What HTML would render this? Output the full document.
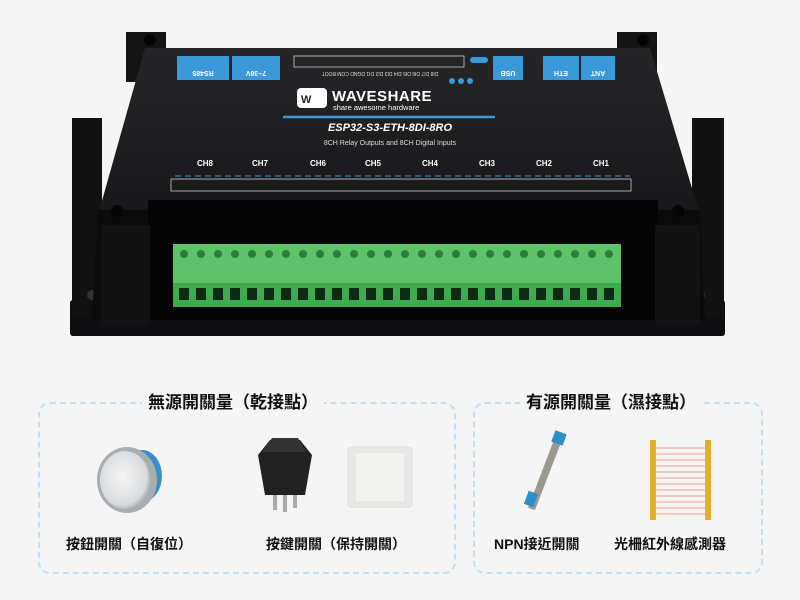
<!DOCTYPE html>
<html><head><meta charset="utf-8"><style>
*{margin:0;padding:0;box-sizing:border-box}
body{width:800px;height:600px;background:#f5f5f5;position:relative;overflow:hidden;font-family:"Liberation Sans","Noto Sans CJK TC",sans-serif}
.a{position:absolute}
.box{position:absolute;border:2px dashed #c3dff0;border-radius:12px}
.ttl{position:absolute;background:#f5f5f5;font-size:17px;font-weight:bold;color:#111;padding:0 6px;line-height:22px}
.lbl{position:absolute;font-size:14px;font-weight:bold;color:#111;white-space:nowrap}
</style></head><body>
<svg class="a" style="left:0;top:0" width="800" height="360" viewBox="0 0 800 360">
<defs>
<linearGradient id="g1" x1="0" y1="0" x2="0" y2="1"><stop offset="0" stop-color="#262628"/><stop offset="1" stop-color="#18181a"/></linearGradient>
<radialGradient id="g2" cx="0.45" cy="0.45" r="0.6"><stop offset="0" stop-color="#f6f6f6"/><stop offset="0.8" stop-color="#d8dadc"/><stop offset="1" stop-color="#9ea2a6"/></radialGradient>
</defs>
<rect x="70" y="300" width="655" height="36" rx="3" fill="#0e0e10"/>
<rect x="72" y="118" width="30" height="200" fill="#111"/>
<rect x="692" y="118" width="32" height="200" fill="#111"/>
<circle cx="92" cy="295" r="5" fill="#333"/><circle cx="700" cy="295" r="5" fill="#333"/>
<rect x="126" y="32" width="40" height="50" fill="#141414"/>
<rect x="617" y="32" width="40" height="50" fill="#141414"/>
<circle cx="150" cy="40" r="6" fill="#050505"/><circle cx="643" cy="40" r="6" fill="#050505"/>
<path d="M145 48 H650 L700 215 H98 Z" fill="url(#g1)"/>
<path d="M98 210 H700 L705 320 H92 Z" fill="#0b0b0c"/>
<circle cx="117" cy="211" r="6" fill="#050505"/><circle cx="678" cy="211" r="6" fill="#050505"/>
<rect x="148" y="200" width="510" height="120" fill="#050505"/>
<rect x="102" y="225" width="48" height="100" fill="#121212"/><rect x="655" y="225" width="45" height="100" fill="#121212"/>
<rect x="173" y="244" width="448" height="40" fill="#5dc26a"/>
<rect x="173" y="283" width="448" height="24" fill="#3faa4e"/>
<g fill="#2e7c3a">
<circle cx="184" cy="254" r="4"/><circle cx="201" cy="254" r="4"/><circle cx="218" cy="254" r="4"/><circle cx="235" cy="254" r="4"/><circle cx="252" cy="254" r="4"/><circle cx="269" cy="254" r="4"/><circle cx="286" cy="254" r="4"/><circle cx="303" cy="254" r="4"/><circle cx="320" cy="254" r="4"/><circle cx="337" cy="254" r="4"/><circle cx="354" cy="254" r="4"/><circle cx="371" cy="254" r="4"/><circle cx="388" cy="254" r="4"/><circle cx="405" cy="254" r="4"/><circle cx="422" cy="254" r="4"/><circle cx="439" cy="254" r="4"/><circle cx="456" cy="254" r="4"/><circle cx="473" cy="254" r="4"/><circle cx="490" cy="254" r="4"/><circle cx="507" cy="254" r="4"/><circle cx="524" cy="254" r="4"/><circle cx="541" cy="254" r="4"/><circle cx="558" cy="254" r="4"/><circle cx="575" cy="254" r="4"/><circle cx="592" cy="254" r="4"/><circle cx="609" cy="254" r="4"/>
</g>
<g fill="#0d2a12">
<rect x="179" y="288" width="10" height="12"/><rect x="196" y="288" width="10" height="12"/><rect x="213" y="288" width="10" height="12"/><rect x="230" y="288" width="10" height="12"/><rect x="247" y="288" width="10" height="12"/><rect x="264" y="288" width="10" height="12"/><rect x="281" y="288" width="10" height="12"/><rect x="298" y="288" width="10" height="12"/><rect x="315" y="288" width="10" height="12"/><rect x="332" y="288" width="10" height="12"/><rect x="349" y="288" width="10" height="12"/><rect x="366" y="288" width="10" height="12"/><rect x="383" y="288" width="10" height="12"/><rect x="400" y="288" width="10" height="12"/><rect x="417" y="288" width="10" height="12"/><rect x="434" y="288" width="10" height="12"/><rect x="451" y="288" width="10" height="12"/><rect x="468" y="288" width="10" height="12"/><rect x="485" y="288" width="10" height="12"/><rect x="502" y="288" width="10" height="12"/><rect x="519" y="288" width="10" height="12"/><rect x="536" y="288" width="10" height="12"/><rect x="553" y="288" width="10" height="12"/><rect x="570" y="288" width="10" height="12"/><rect x="587" y="288" width="10" height="12"/><rect x="604" y="288" width="10" height="12"/>
</g>
<g fill="#3a9ad9">
<rect x="177" y="56" width="52" height="24"/><rect x="232" y="56" width="48" height="24"/>
<rect x="493" y="56" width="30" height="24"/><rect x="543" y="56" width="36" height="24"/><rect x="581" y="56" width="34" height="24"/>
<rect x="470" y="57" width="18" height="6" rx="3"/>
<circle cx="452" cy="81" r="3"/><circle cx="461" cy="81" r="3"/><circle cx="470" cy="81" r="3"/>
</g>
<g fill="#fff" font-size="7" font-weight="bold" text-anchor="middle">
<text x="203" y="77" transform="rotate(180 203 74)">RS485</text>
<text x="256" y="77" transform="rotate(180 256 74)">7~36V</text>
<text x="508" y="77" transform="rotate(180 508 74)">USB</text>
<text x="561" y="77" transform="rotate(180 561 74)">ETH</text>
<text x="598" y="77" transform="rotate(180 598 74)">ANT</text>
</g>
<rect x="294" y="56" width="170" height="11" fill="none" stroke="#ccc" stroke-width="0.8"/>
<text x="380" y="76" fill="#ddd" font-size="5" text-anchor="middle" transform="rotate(180 380 74)">DI8 DI7 DI6 DI5 DI4 DI3 DI2 DI1 DGND COM BOOT</text>
<rect x="297" y="88" width="30" height="20" rx="4" fill="#fff"/>
<text x="301" y="103" font-size="11" font-weight="bold" fill="#222">W</text>
<text x="332" y="101" font-size="15" font-weight="bold" fill="#fff" letter-spacing="0.5">WAVESHARE</text>
<text x="333" y="110" font-size="7.5" fill="#fff">share awesome hardware</text>
<path d="M283 117 H495" stroke="#3a9ad9" stroke-width="2.5"/>
<text x="390" y="131" font-size="11" font-weight="bold" font-style="italic" fill="#fff" text-anchor="middle">ESP32-S3-ETH-8DI-8RO</text>
<text x="390" y="145" font-size="7" fill="#ddd" text-anchor="middle">8CH Relay Outputs and 8CH Digital Inputs</text>
<g fill="#fff" font-size="8" font-weight="bold" text-anchor="middle">
<text x="205" y="166">CH8</text><text x="260" y="166">CH7</text><text x="318" y="166">CH6</text><text x="373" y="166">CH5</text><text x="430" y="166">CH4</text><text x="487" y="166">CH3</text><text x="544" y="166">CH2</text><text x="601" y="166">CH1</text>
</g>
<rect x="171" y="179" width="460" height="12" fill="none" stroke="#ccc" stroke-width="0.8"/>
<path d="M175 176 H630" stroke="#3a9ad9" stroke-width="1" stroke-dasharray="6 4"/>
</svg>

<div class="box" style="left:38px;top:402px;width:418px;height:172px"></div>
<div class="box" style="left:473px;top:402px;width:290px;height:172px"></div>
<div class="ttl" style="left:142px;top:392px">無源開關量（乾接點）</div>
<div class="ttl" style="left:520px;top:392px">有源開關量（濕接點）</div>

<svg class="a" style="left:0;top:420px" width="800" height="110" viewBox="0 420 800 110">
<ellipse cx="142" cy="476" rx="20" ry="26" fill="#3b8fc9"/>
<ellipse cx="127" cy="480" rx="30" ry="33" fill="#a9adb1"/>
<ellipse cx="125" cy="480" rx="25" ry="29" fill="url(#g2)"/>
<rect x="273" y="488" width="4" height="22" fill="#aaa"/><rect x="283" y="488" width="4" height="24" fill="#aaa"/><rect x="293" y="488" width="4" height="20" fill="#aaa"/>
<path d="M258 455 L270 440 L300 440 L312 455 L305 495 L265 495 Z" fill="#222"/>
<path d="M262 452 L272 438 L298 438 L306 452 Z" fill="#333"/>
<rect x="348" y="447" width="64" height="60" rx="3" fill="#e8e8e6" stroke="#ddd"/>
<rect x="356" y="453" width="48" height="48" fill="#f3f3f1"/>
<path d="M555 437 L562 440 L535 510 L528 508 Z" fill="#9a9891"/>
<rect x="553" y="432" width="12" height="12" fill="#2e8fc8" transform="rotate(20 559 438)"/>
<rect x="526" y="492" width="10" height="14" fill="#2e8fc8" transform="rotate(20 531 499)"/>
<rect x="650" y="440" width="6" height="80" fill="#e0b02a"/><rect x="705" y="440" width="6" height="80" fill="#e0b02a"/>
<g stroke="#f0b4a0" stroke-width="1.2">
<path d="M656 448H705M656 454H705M656 460H705M656 466H705M656 472H705M656 478H705M656 484H705M656 490H705M656 496H705M656 502H705M656 508H705M656 514H705"/>
</g>
</svg>

<div class="lbl" style="left:66px;top:534px">按鈕開關（自復位）</div>
<div class="lbl" style="left:266px;top:534px">按鍵開關（保持開關）</div>
<div class="lbl" style="left:494px;top:534px">NPN接近開關</div>
<div class="lbl" style="left:614px;top:534px">光柵紅外線感測器</div>
</body></html>
